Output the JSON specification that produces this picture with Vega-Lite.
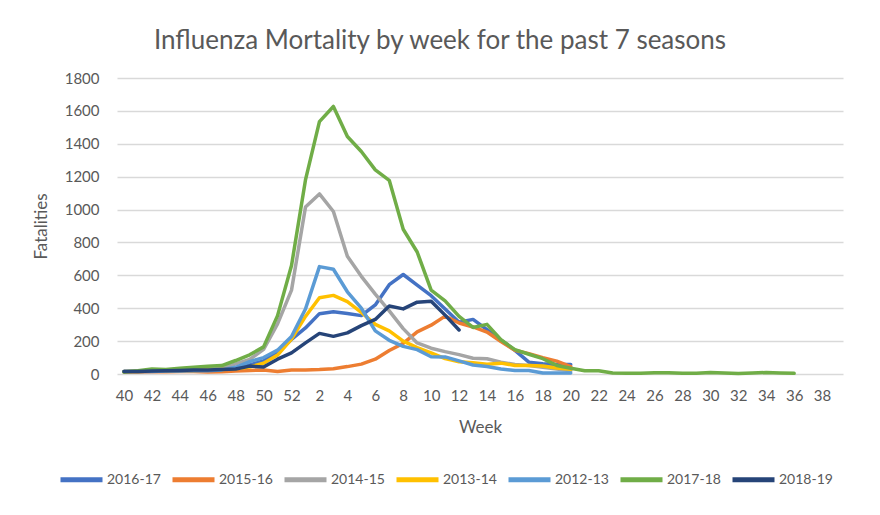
{
  "$schema": "https://vega.github.io/schema/vega-lite/v6.json",
  "description": "Influenza mortality by week for the past 7 seasons",
  "width": 726,
  "height": 296,
  "autosize": {"type": "none"},
  "padding": {"left": 117, "top": 78, "right": 37, "bottom": 141},
  "background": "white",
  "title": {
    "text": "Influenza Mortality by week for the past 7 seasons",
    "fontSize": 26,
    "fontWeight": "normal",
    "color": "#595959",
    "font": "Lato",
    "baseline": "alphabetic",
    "offset": -4,
    "dx": -40
  },
  "data": {
    "values": [
      {"season": "2016-17", "week": 40, "deaths": 15}, {"season": "2016-17", "week": 41, "deaths": 15}, {"season": "2016-17", "week": 42, "deaths": 18}, {"season": "2016-17", "week": 43, "deaths": 20}, {"season": "2016-17", "week": 44, "deaths": 22}, {"season": "2016-17", "week": 45, "deaths": 25}, {"season": "2016-17", "week": 46, "deaths": 25}, {"season": "2016-17", "week": 47, "deaths": 28}, {"season": "2016-17", "week": 48, "deaths": 35}, {"season": "2016-17", "week": 49, "deaths": 55}, {"season": "2016-17", "week": 50, "deaths": 80}, {"season": "2016-17", "week": 51, "deaths": 130}, {"season": "2016-17", "week": 52, "deaths": 210}, {"season": "2016-17", "week": 1, "deaths": 280}, {"season": "2016-17", "week": 2, "deaths": 367}, {"season": "2016-17", "week": 3, "deaths": 378}, {"season": "2016-17", "week": 4, "deaths": 368}, {"season": "2016-17", "week": 5, "deaths": 355}, {"season": "2016-17", "week": 6, "deaths": 420}, {"season": "2016-17", "week": 7, "deaths": 543}, {"season": "2016-17", "week": 8, "deaths": 605}, {"season": "2016-17", "week": 9, "deaths": 540}, {"season": "2016-17", "week": 10, "deaths": 476}, {"season": "2016-17", "week": 11, "deaths": 395}, {"season": "2016-17", "week": 12, "deaths": 315}, {"season": "2016-17", "week": 13, "deaths": 332}, {"season": "2016-17", "week": 14, "deaths": 270}, {"season": "2016-17", "week": 15, "deaths": 206}, {"season": "2016-17", "week": 16, "deaths": 144}, {"season": "2016-17", "week": 17, "deaths": 72}, {"season": "2016-17", "week": 18, "deaths": 62}, {"season": "2016-17", "week": 19, "deaths": 58}, {"season": "2016-17", "week": 20, "deaths": 58},
      {"season": "2015-16", "week": 40, "deaths": 12}, {"season": "2015-16", "week": 41, "deaths": 12}, {"season": "2015-16", "week": 42, "deaths": 14}, {"season": "2015-16", "week": 43, "deaths": 14}, {"season": "2015-16", "week": 44, "deaths": 15}, {"season": "2015-16", "week": 45, "deaths": 15}, {"season": "2015-16", "week": 46, "deaths": 12}, {"season": "2015-16", "week": 47, "deaths": 14}, {"season": "2015-16", "week": 48, "deaths": 18}, {"season": "2015-16", "week": 49, "deaths": 22}, {"season": "2015-16", "week": 50, "deaths": 25}, {"season": "2015-16", "week": 51, "deaths": 15}, {"season": "2015-16", "week": 52, "deaths": 25}, {"season": "2015-16", "week": 1, "deaths": 25}, {"season": "2015-16", "week": 2, "deaths": 27}, {"season": "2015-16", "week": 3, "deaths": 32}, {"season": "2015-16", "week": 4, "deaths": 45}, {"season": "2015-16", "week": 5, "deaths": 60}, {"season": "2015-16", "week": 6, "deaths": 90}, {"season": "2015-16", "week": 7, "deaths": 143}, {"season": "2015-16", "week": 8, "deaths": 186}, {"season": "2015-16", "week": 9, "deaths": 256}, {"season": "2015-16", "week": 10, "deaths": 297}, {"season": "2015-16", "week": 11, "deaths": 352}, {"season": "2015-16", "week": 12, "deaths": 310}, {"season": "2015-16", "week": 13, "deaths": 286}, {"season": "2015-16", "week": 14, "deaths": 255}, {"season": "2015-16", "week": 15, "deaths": 198}, {"season": "2015-16", "week": 16, "deaths": 144}, {"season": "2015-16", "week": 17, "deaths": 124}, {"season": "2015-16", "week": 18, "deaths": 99}, {"season": "2015-16", "week": 19, "deaths": 78}, {"season": "2015-16", "week": 20, "deaths": 45},
      {"season": "2014-15", "week": 40, "deaths": 15}, {"season": "2014-15", "week": 41, "deaths": 18}, {"season": "2014-15", "week": 42, "deaths": 20}, {"season": "2014-15", "week": 43, "deaths": 22}, {"season": "2014-15", "week": 44, "deaths": 25}, {"season": "2014-15", "week": 45, "deaths": 28}, {"season": "2014-15", "week": 46, "deaths": 30}, {"season": "2014-15", "week": 47, "deaths": 35}, {"season": "2014-15", "week": 48, "deaths": 62}, {"season": "2014-15", "week": 49, "deaths": 88}, {"season": "2014-15", "week": 50, "deaths": 150}, {"season": "2014-15", "week": 51, "deaths": 305}, {"season": "2014-15", "week": 52, "deaths": 510}, {"season": "2014-15", "week": 1, "deaths": 1015}, {"season": "2014-15", "week": 2, "deaths": 1095}, {"season": "2014-15", "week": 3, "deaths": 988}, {"season": "2014-15", "week": 4, "deaths": 716}, {"season": "2014-15", "week": 5, "deaths": 594}, {"season": "2014-15", "week": 6, "deaths": 486}, {"season": "2014-15", "week": 7, "deaths": 384}, {"season": "2014-15", "week": 8, "deaths": 276}, {"season": "2014-15", "week": 9, "deaths": 189}, {"season": "2014-15", "week": 10, "deaths": 157}, {"season": "2014-15", "week": 11, "deaths": 136}, {"season": "2014-15", "week": 12, "deaths": 118}, {"season": "2014-15", "week": 13, "deaths": 96}, {"season": "2014-15", "week": 14, "deaths": 93}, {"season": "2014-15", "week": 15, "deaths": 72}, {"season": "2014-15", "week": 16, "deaths": 58}, {"season": "2014-15", "week": 17, "deaths": 52}, {"season": "2014-15", "week": 18, "deaths": 41}, {"season": "2014-15", "week": 19, "deaths": 31}, {"season": "2014-15", "week": 20, "deaths": 20},
      {"season": "2013-14", "week": 40, "deaths": 15}, {"season": "2013-14", "week": 41, "deaths": 15}, {"season": "2013-14", "week": 42, "deaths": 18}, {"season": "2013-14", "week": 43, "deaths": 20}, {"season": "2013-14", "week": 44, "deaths": 22}, {"season": "2013-14", "week": 45, "deaths": 22}, {"season": "2013-14", "week": 46, "deaths": 25}, {"season": "2013-14", "week": 47, "deaths": 28}, {"season": "2013-14", "week": 48, "deaths": 32}, {"season": "2013-14", "week": 49, "deaths": 42}, {"season": "2013-14", "week": 50, "deaths": 66}, {"season": "2013-14", "week": 51, "deaths": 115}, {"season": "2013-14", "week": 52, "deaths": 212}, {"season": "2013-14", "week": 1, "deaths": 350}, {"season": "2013-14", "week": 2, "deaths": 464}, {"season": "2013-14", "week": 3, "deaths": 478}, {"season": "2013-14", "week": 4, "deaths": 440}, {"season": "2013-14", "week": 5, "deaths": 375}, {"season": "2013-14", "week": 6, "deaths": 302}, {"season": "2013-14", "week": 7, "deaths": 262}, {"season": "2013-14", "week": 8, "deaths": 200}, {"season": "2013-14", "week": 9, "deaths": 160}, {"season": "2013-14", "week": 10, "deaths": 128}, {"season": "2013-14", "week": 11, "deaths": 94}, {"season": "2013-14", "week": 12, "deaths": 74}, {"season": "2013-14", "week": 13, "deaths": 68}, {"season": "2013-14", "week": 14, "deaths": 60}, {"season": "2013-14", "week": 15, "deaths": 66}, {"season": "2013-14", "week": 16, "deaths": 52}, {"season": "2013-14", "week": 17, "deaths": 52}, {"season": "2013-14", "week": 18, "deaths": 49}, {"season": "2013-14", "week": 19, "deaths": 37}, {"season": "2013-14", "week": 20, "deaths": 29},
      {"season": "2012-13", "week": 40, "deaths": 15}, {"season": "2012-13", "week": 41, "deaths": 15}, {"season": "2012-13", "week": 42, "deaths": 15}, {"season": "2012-13", "week": 43, "deaths": 18}, {"season": "2012-13", "week": 44, "deaths": 18}, {"season": "2012-13", "week": 45, "deaths": 20}, {"season": "2012-13", "week": 46, "deaths": 20}, {"season": "2012-13", "week": 47, "deaths": 25}, {"season": "2012-13", "week": 48, "deaths": 41}, {"season": "2012-13", "week": 49, "deaths": 75}, {"season": "2012-13", "week": 50, "deaths": 100}, {"season": "2012-13", "week": 51, "deaths": 145}, {"season": "2012-13", "week": 52, "deaths": 228}, {"season": "2012-13", "week": 1, "deaths": 395}, {"season": "2012-13", "week": 2, "deaths": 653}, {"season": "2012-13", "week": 3, "deaths": 637}, {"season": "2012-13", "week": 4, "deaths": 500}, {"season": "2012-13", "week": 5, "deaths": 400}, {"season": "2012-13", "week": 6, "deaths": 262}, {"season": "2012-13", "week": 7, "deaths": 205}, {"season": "2012-13", "week": 8, "deaths": 168}, {"season": "2012-13", "week": 9, "deaths": 148}, {"season": "2012-13", "week": 10, "deaths": 105}, {"season": "2012-13", "week": 11, "deaths": 104}, {"season": "2012-13", "week": 12, "deaths": 80}, {"season": "2012-13", "week": 13, "deaths": 55}, {"season": "2012-13", "week": 14, "deaths": 45}, {"season": "2012-13", "week": 15, "deaths": 31}, {"season": "2012-13", "week": 16, "deaths": 21}, {"season": "2012-13", "week": 17, "deaths": 21}, {"season": "2012-13", "week": 18, "deaths": 6}, {"season": "2012-13", "week": 19, "deaths": 6}, {"season": "2012-13", "week": 20, "deaths": 6},
      {"season": "2017-18", "week": 40, "deaths": 12}, {"season": "2017-18", "week": 41, "deaths": 20}, {"season": "2017-18", "week": 42, "deaths": 30}, {"season": "2017-18", "week": 43, "deaths": 27}, {"season": "2017-18", "week": 44, "deaths": 35}, {"season": "2017-18", "week": 45, "deaths": 41}, {"season": "2017-18", "week": 46, "deaths": 47}, {"season": "2017-18", "week": 47, "deaths": 51}, {"season": "2017-18", "week": 48, "deaths": 82}, {"season": "2017-18", "week": 49, "deaths": 117}, {"season": "2017-18", "week": 50, "deaths": 165}, {"season": "2017-18", "week": 51, "deaths": 355}, {"season": "2017-18", "week": 52, "deaths": 660}, {"season": "2017-18", "week": 1, "deaths": 1180}, {"season": "2017-18", "week": 2, "deaths": 1535}, {"season": "2017-18", "week": 3, "deaths": 1627}, {"season": "2017-18", "week": 4, "deaths": 1444}, {"season": "2017-18", "week": 5, "deaths": 1353}, {"season": "2017-18", "week": 6, "deaths": 1241}, {"season": "2017-18", "week": 7, "deaths": 1178}, {"season": "2017-18", "week": 8, "deaths": 880}, {"season": "2017-18", "week": 9, "deaths": 742}, {"season": "2017-18", "week": 10, "deaths": 510}, {"season": "2017-18", "week": 11, "deaths": 445}, {"season": "2017-18", "week": 12, "deaths": 350}, {"season": "2017-18", "week": 13, "deaths": 283}, {"season": "2017-18", "week": 14, "deaths": 302}, {"season": "2017-18", "week": 15, "deaths": 208}, {"season": "2017-18", "week": 16, "deaths": 148}, {"season": "2017-18", "week": 17, "deaths": 120}, {"season": "2017-18", "week": 18, "deaths": 93}, {"season": "2017-18", "week": 19, "deaths": 52}, {"season": "2017-18", "week": 20, "deaths": 35}, {"season": "2017-18", "week": 21, "deaths": 20}, {"season": "2017-18", "week": 22, "deaths": 20}, {"season": "2017-18", "week": 23, "deaths": 6}, {"season": "2017-18", "week": 24, "deaths": 5}, {"season": "2017-18", "week": 25, "deaths": 4}, {"season": "2017-18", "week": 26, "deaths": 8}, {"season": "2017-18", "week": 27, "deaths": 8}, {"season": "2017-18", "week": 28, "deaths": 5}, {"season": "2017-18", "week": 29, "deaths": 5}, {"season": "2017-18", "week": 30, "deaths": 9}, {"season": "2017-18", "week": 31, "deaths": 6}, {"season": "2017-18", "week": 32, "deaths": 3}, {"season": "2017-18", "week": 33, "deaths": 6}, {"season": "2017-18", "week": 34, "deaths": 9}, {"season": "2017-18", "week": 35, "deaths": 6}, {"season": "2017-18", "week": 36, "deaths": 4},
      {"season": "2018-19", "week": 40, "deaths": 15}, {"season": "2018-19", "week": 41, "deaths": 15}, {"season": "2018-19", "week": 42, "deaths": 18}, {"season": "2018-19", "week": 43, "deaths": 20}, {"season": "2018-19", "week": 44, "deaths": 22}, {"season": "2018-19", "week": 45, "deaths": 25}, {"season": "2018-19", "week": 46, "deaths": 25}, {"season": "2018-19", "week": 47, "deaths": 28}, {"season": "2018-19", "week": 48, "deaths": 30}, {"season": "2018-19", "week": 49, "deaths": 48}, {"season": "2018-19", "week": 50, "deaths": 42}, {"season": "2018-19", "week": 51, "deaths": 90}, {"season": "2018-19", "week": 52, "deaths": 128}, {"season": "2018-19", "week": 1, "deaths": 189}, {"season": "2018-19", "week": 2, "deaths": 247}, {"season": "2018-19", "week": 3, "deaths": 229}, {"season": "2018-19", "week": 4, "deaths": 250}, {"season": "2018-19", "week": 5, "deaths": 294}, {"season": "2018-19", "week": 6, "deaths": 332}, {"season": "2018-19", "week": 7, "deaths": 414}, {"season": "2018-19", "week": 8, "deaths": 396}, {"season": "2018-19", "week": 9, "deaths": 437}, {"season": "2018-19", "week": 10, "deaths": 442}, {"season": "2018-19", "week": 11, "deaths": 358}, {"season": "2018-19", "week": 12, "deaths": 268}
    ]
  },
  "mark": {"type": "line", "strokeWidth": 3.5, "strokeJoin": "round", "strokeCap": "round"},
  "encoding": {
    "x": {
      "field": "week",
      "type": "ordinal",
      "title": "Week",
      "scale": {
        "type": "point",
        "padding": 0.5,
        "domain": [40, 41, 42, 43, 44, 45, 46, 47, 48, 49, 50, 51, 52, 1, 2, 3, 4, 5, 6, 7, 8, 9, 10, 11, 12, 13, 14, 15, 16, 17, 18, 19, 20, 21, 22, 23, 24, 25, 26, 27, 28, 29, 30, 31, 32, 33, 34, 35, 36, 37, 38, 39]
      },
      "axis": {
        "values": [40, 42, 44, 46, 48, 50, 52, 2, 4, 6, 8, 10, 12, 14, 16, 18, 20, 22, 24, 26, 28, 30, 32, 34, 36, 38],
        "labelAngle": 0,
        "ticks": false,
        "domain": false,
        "grid": false,
        "labelPadding": 14,
        "titlePadding": 16
      }
    },
    "y": {
      "field": "deaths",
      "type": "quantitative",
      "title": "Fatalities",
      "scale": {"domain": [0, 1800], "nice": false},
      "axis": {
        "values": [0, 200, 400, 600, 800, 1000, 1200, 1400, 1600, 1800],
        "format": "d",
        "labelOverlap": false,
        "ticks": false,
        "domain": false,
        "labelPadding": 18,
        "titlePadding": 14
      }
    },
    "color": {
      "field": "season",
      "type": "nominal",
      "title": null,
      "scale": {
        "domain": ["2016-17", "2015-16", "2014-15", "2013-14", "2012-13", "2017-18", "2018-19"],
        "range": ["#4472C4", "#ED7D31", "#A5A5A5", "#FFC000", "#5B9BD5", "#70AD47", "#264478"]
      },
      "legend": {
        "orient": "none",
        "legendX": -59,
        "legendY": 378,
        "direction": "horizontal",
        "columns": 7,
        "symbolType": "stroke",
        "symbolSize": 1764,
        "symbolStrokeWidth": 5,
        "columnPadding": 1,
        "labelOffset": 2
      }
    },
    "order": {"value": null}
  },
  "config": {
    "font": "Lato",
    "view": {"stroke": null},
    "axis": {
      "labelFont": "Lato",
      "labelFontSize": 15,
      "labelColor": "#595959",
      "titleFont": "Lato",
      "titleFontSize": 17,
      "titleFontWeight": "normal",
      "titleColor": "#595959",
      "gridColor": "#d9d9d9",
      "gridWidth": 1.5
    },
    "legend": {
      "labelFont": "Lato",
      "labelFontSize": 14,
      "labelColor": "#595959"
    }
  }
}
